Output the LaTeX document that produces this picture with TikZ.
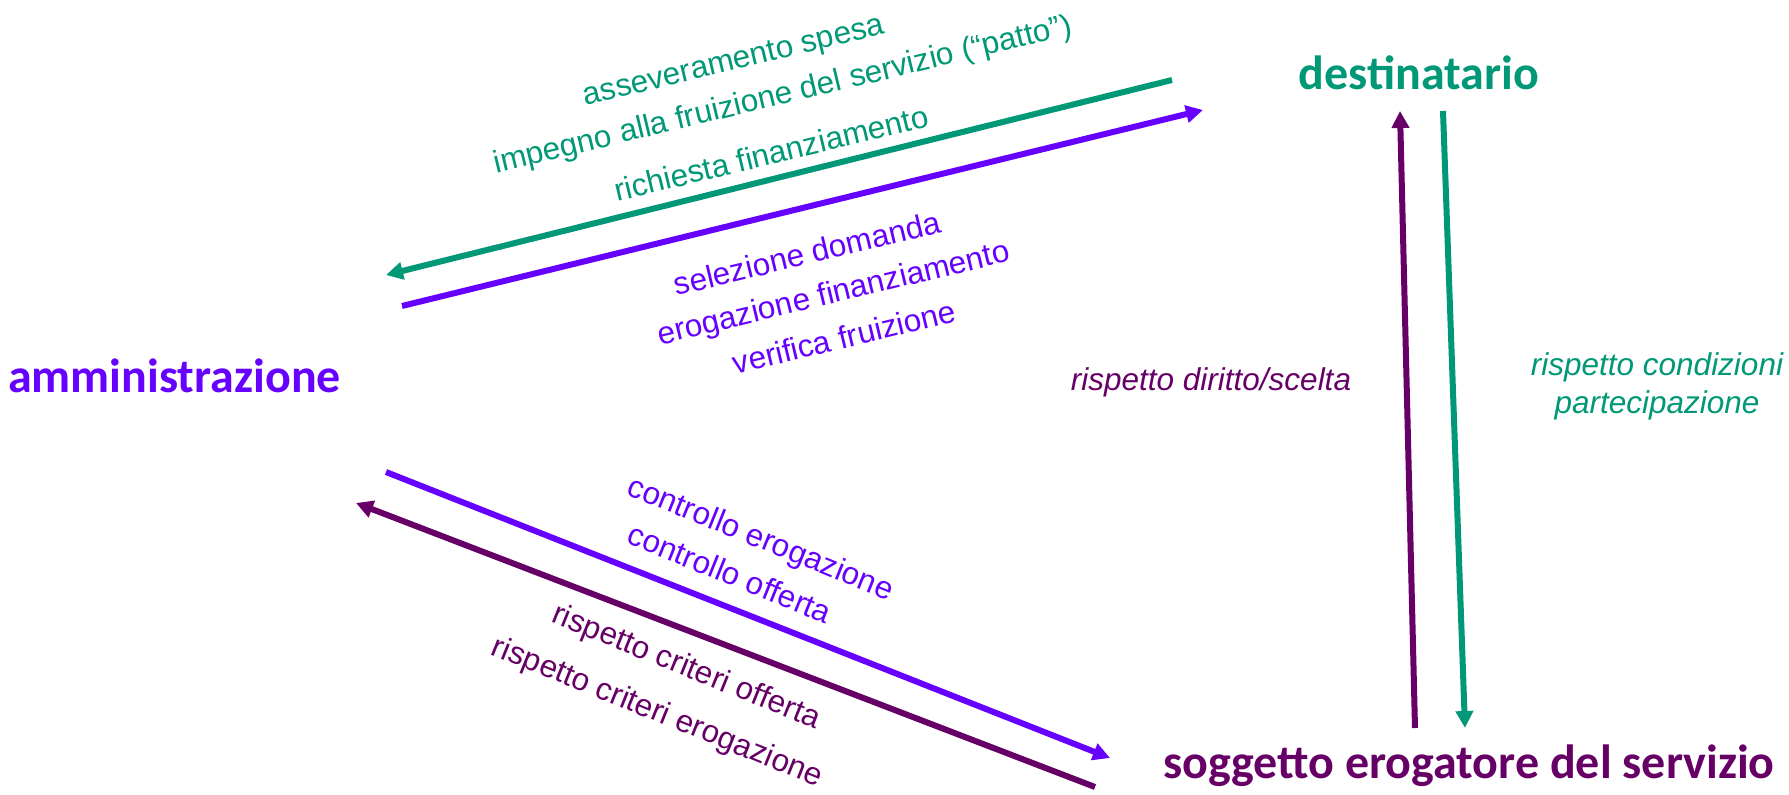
\documentclass[tikz,border=0pt]{standalone}
\usepackage{fontspec}
\setmainfont{Liberation Sans}
\newfontfamily\titlefont{Carlito}
\usetikzlibrary{arrows.meta}
\definecolor{cgreen}{RGB}{0,152,118}
\definecolor{cviolet}{RGB}{102,0,255}
\definecolor{cplum}{RGB}{102,0,102}
\begin{document}
\begin{tikzpicture}[x=1pt,y=-1pt,
  title/.style={font=\titlefont\bfseries\fontsize{48}{54}\selectfont, inner sep=0pt},
  lbl/.style={font=\fontsize{31.5}{38}\selectfont, inner sep=0pt},
  ilbl/.style={font=\itshape\fontsize{31.5}{38}\selectfont, inner sep=0pt},
  flow/.style={line width=6pt, -{Triangle[length=17pt,width=17pt]}},
]
\useasboundingbox (0,0) rectangle (1789,795);

% actors
\node[title, text=cviolet, anchor=base west] (amm) at (8,392) {amministrazione};
\node[title, text=cgreen, anchor=base] (dest) at (1419,89) {destinatario};
\node[title, text=cplum, anchor=base] (sogg) at (1469,778) {soggetto erogatore del servizio};

% arrow end points
\coordinate (g1s) at (1172,80);  \coordinate (g1e) at (386,275);
\coordinate (p1s) at (402,306);  \coordinate (p1e) at (1203,110);
\coordinate (p2s) at (386,472);  \coordinate (p2e) at (1110,758);
\coordinate (d2s) at (1095,787); \coordinate (d2e) at (356,503);
\coordinate (dvs) at (1415,728); \coordinate (dve) at (1400,111);
\coordinate (gvs) at (1443,111); \coordinate (gve) at (1465,728);

\draw[flow, cgreen] (g1s) -- (g1e);
\draw[flow, cviolet] (p1s) -- (p1e);
\draw[flow, cviolet] (p2s) -- (p2e);
\draw[flow, cplum] (d2s) -- (d2e);
\draw[flow, cplum] (dvs) -- (dve);
\draw[flow, cgreen] (gvs) -- (gve);

% upper labels
\node[lbl, text=cgreen, rotate=13.5] (l1) at (734,63) {asseveramento spesa};
\node[lbl, text=cgreen, rotate=13.5] (l2) at (783,96) {impegno alla fruizione del servizio (“patto”)};
\node[lbl, text=cgreen, rotate=13.5] (l3) at (771,153) {richiesta finanziamento};
\node[lbl, text=cviolet, rotate=13.5] (l4) at (807,253) {selezione domanda};
\node[lbl, text=cviolet, rotate=13.5] (l5) at (834,295) {erogazione finanziamento};
\node[lbl, text=cviolet, rotate=13.5] (l6) at (844,337) {verifica fruizione};

% lower labels
\node[lbl, text=cviolet, rotate=-22] (l7) at (760,540) {controllo erogazione};
\node[lbl, text=cviolet, rotate=-22] (l8) at (730,573) {controllo offerta};
\node[lbl, text=cplum, rotate=-22] (l9) at (686,668) {rispetto criteri offerta};
\node[lbl, text=cplum, rotate=-22] (l10) at (657,713) {rispetto criteri erogazione};

% vertical labels
\node[ilbl, text=cplum, anchor=base] (l11) at (1211,390) {rispetto diritto/scelta};
\node[ilbl, text=cgreen, anchor=base] (l12) at (1657,375) {rispetto condizioni};
\node[ilbl, text=cgreen, anchor=base] (l13) at (1657,413) {partecipazione};
\end{tikzpicture}
\end{document}
